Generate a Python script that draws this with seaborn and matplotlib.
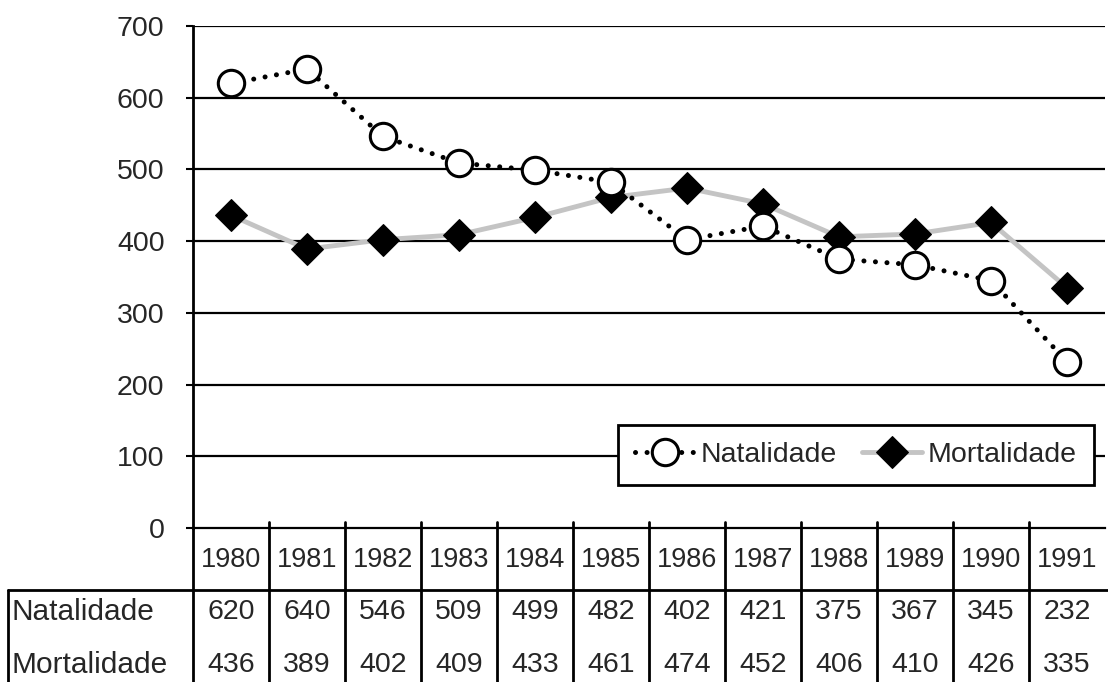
import matplotlib
matplotlib.use("Agg")
import matplotlib.pyplot as plt
from matplotlib.lines import Line2D
import seaborn as sns
import pandas as pd

years = ["1980", "1981", "1982", "1983", "1984", "1985", "1986", "1987", "1988", "1989", "1990", "1991"]
natalidade = [620, 640, 546, 509, 499, 482, 402, 421, 375, 367, 345, 232]
mortalidade = [436, 389, 402, 409, 433, 461, 474, 452, 406, 410, 426, 335]
yticks = [0, 100, 200, 300, 400, 500, 600, 700]

sns.set_theme(style="white")
plt.rcParams["font.family"] = ["Liberation Sans", "DejaVu Sans"]

FS = 20.5
W, H = 1108, 682
fig = plt.figure(figsize=(W / 100, H / 100), dpi=100)
ax = fig.add_axes([193 / W, 1 - 528 / H, 912 / W, 502 / H])

pos = list(range(len(years)))
df = pd.DataFrame({"pos": pos, "Natalidade": natalidade, "Mortalidade": mortalidade})

sns.lineplot(data=df, x="pos", y="Mortalidade", ax=ax, color="#c4c4c4", lw=3.5,
             marker="D", markersize=16.5, markerfacecolor="black", markeredgecolor="black",
             label="Mortalidade", zorder=4)
sns.lineplot(data=df, x="pos", y="Natalidade", ax=ax, color="black", lw=3.6,
             linestyle=(0, (0.01, 2.3)), dash_capstyle="round",
             marker="o", markersize=19, markerfacecolor="white", markeredgecolor="black",
             markeredgewidth=2.2, label="Natalidade", zorder=5)

ax.set_xlim(-0.5, len(years) - 0.5)
ax.set_ylim(0, 700)
ax.set_yticks(yticks)
ax.set_yticklabels([str(v) for v in yticks], fontsize=FS)
ax.set_xticks([])
ax.set_xlabel("")
ax.set_ylabel("")
ax.tick_params(axis="y", left=True, length=5, width=1.5, color="black", pad=15.5)
for yv in yticks[1:]:
    ax.axhline(yv, color="black", lw=1.6, zorder=1)
for s in ["top", "right"]:
    ax.spines[s].set_visible(False)
ax.spines["left"].set_color("black")
ax.spines["left"].set_linewidth(2)
ax.spines["bottom"].set_color("black")
ax.spines["bottom"].set_linewidth(1.6)

handles, labels = ax.get_legend_handles_labels()
order = [labels.index("Natalidade"), labels.index("Mortalidade")]
leg = ax.legend([handles[i] for i in order], [labels[i] for i in order],
                loc="center", bbox_to_anchor=(0.727, 0.145), ncol=2, fontsize=FS,
                frameon=True, fancybox=False, framealpha=1, edgecolor="black",
                handlelength=2.1, handletextpad=0.2, columnspacing=0.9,
                borderpad=0.6, borderaxespad=0)
leg.get_frame().set_linewidth(2)

# data table
xt = ax.get_xaxis_transform()
y_top = 0.012
y_bot = -(682 - 528) / 502
for b in range(1, len(years)):
    ax.plot([b - 0.5, b - 0.5], [y_top, y_bot], transform=xt, color="black", lw=2, clip_on=False)
ax.plot([-0.5, -0.5], [0, y_bot], transform=xt, color="black", lw=2, clip_on=False)

y_head = -(560 - 528) / 502
y_r1 = -(612 - 528) / 502
y_r2 = -(665 - 528) / 502
for i, yr in enumerate(years):
    ax.text(i, y_head, yr, transform=xt, ha="center", va="center", fontsize=19.5)
    ax.text(i, y_r1, str(natalidade[i]), transform=xt, ha="center", va="center", fontsize=FS)
    ax.text(i, y_r2, str(mortalidade[i]), transform=xt, ha="center", va="center", fontsize=FS)

fig.add_artist(Line2D([8 / W, 1.0], [1 - 590 / H, 1 - 590 / H], color="black", lw=2))
fig.add_artist(Line2D([8 / W, 8 / W], [1 - 590 / H, 0], color="black", lw=2))
fig.text(12 / W, 1 - 612 / H, "Natalidade", ha="left", va="center", fontsize=21.5)
fig.text(12 / W, 1 - 665 / H, "Mortalidade", ha="left", va="center", fontsize=21.5)

fig.savefig("out.png", dpi=100)
